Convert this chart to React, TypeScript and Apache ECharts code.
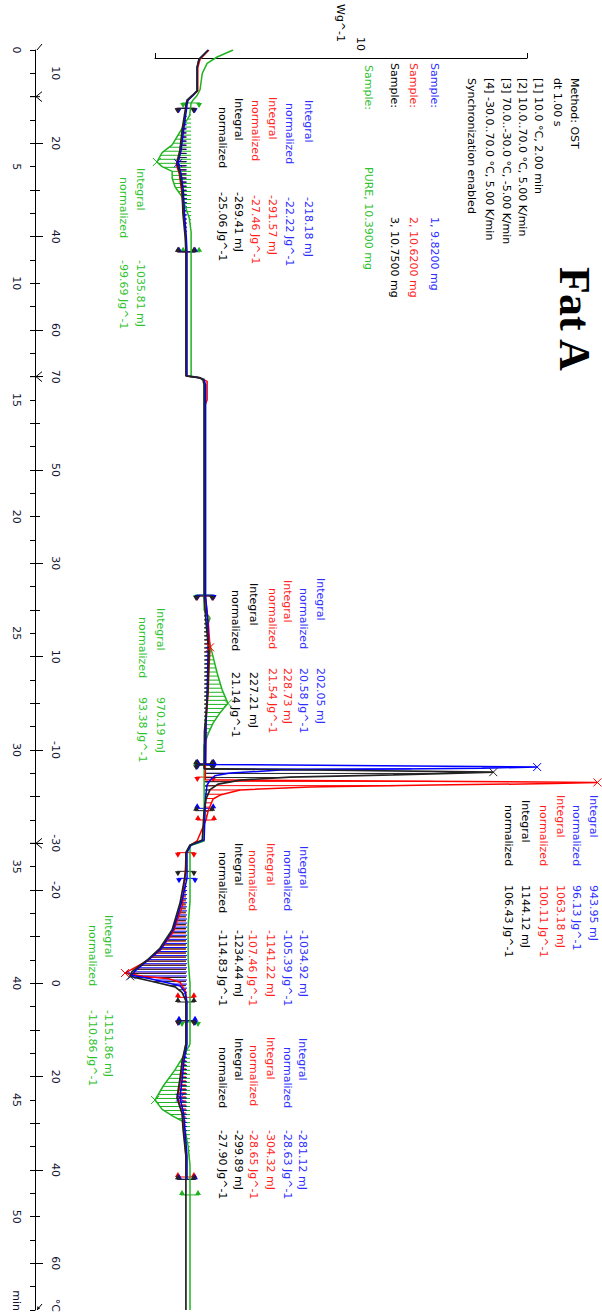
import React, { useEffect, useRef } from 'react';
import * as echarts from 'echarts';

// ---------- axis ticks / labels (time in min) ----------
const timeLabelValues = [0, 5, 10, 15, 20, 25, 30, 35, 40, 45, 50];
const timeUnitLabel = 'min';
const timeUnitAt = 53.6;
const tempLabelTimes = [1, 4, 8, 12, 14, 18, 22, 26, 30, 34, 36, 40, 44, 48, 52];
const tempLabels = ['10', '20', '40', '60', '70', '50', '30', '10', '-10', '-30', '-20', '0', '20', '40', '60'];
const tempMajorTimes = [4, 8, 12, 14, 18, 22, 26, 30, 34, 36, 40, 44, 48, 52];
const tempMinorTimes = [6, 10, 16, 20, 24, 28, 32, 38, 42, 46, 50];
const tempUnitLabel = '°C';
const tempUnitAt = 53.8;
const segmentTimes = [2, 14, 34];
const axisEndTimes = [0, 54];

// ---------- curves: [heat flow (W/g, offset), time (min)] ----------
const blackCurve = [
  [0.06, 0], [-0.19, 0.4], [-0.24, 0.75], [-0.24, 1.75], [-0.37, 1.95], [-0.51, 2.15], [-0.54, 2.35],
  [-0.55, 2.5], [-0.64, 3.4], [-0.70, 4.3], [-0.78, 4.85], [-0.70, 5.3], [-0.64, 6.0], [-0.62, 7.0], [-0.56, 8.0], [-0.54, 8.65],
  [-0.54, 13.97], [-0.16, 14.05], [-0.08, 14.15], [-0.05, 14.35],
  [-0.05, 23.4], [0.0, 24.5], [0.08, 25.8], [0.05, 27.5], [0.0, 28.5], [-0.04, 29.2], [-0.05, 30.8],
  [7.73, 30.95], [6.57, 31.0], [5.04, 31.07], [2.26, 31.16], [0.92, 31.29], [0.33, 31.46], [0.11, 31.7], [0.0, 32.1], [-0.05, 32.6],
  [-0.10, 33.86], [-0.43, 34.07], [-0.54, 34.4],
  [-0.54, 35.2], [-0.70, 36.57], [-0.91, 37.7], [-1.24, 38.5], [-1.58, 39.0], [-1.99, 39.5], [-2.04, 39.7], [-1.50, 39.9], [-0.83, 40.15], [-0.64, 40.4], [-0.54, 40.75],
  [-0.54, 42.6], [-0.64, 43.3], [-0.70, 44.1], [-0.78, 44.9], [-0.64, 45.6], [-0.62, 46.2], [-0.54, 47.4], [-0.54, 54],
];
const blueCurve = [
  [0.06, 0], [-0.19, 0.4], [-0.24, 0.75], [-0.24, 1.75], [-0.35, 1.95], [-0.48, 2.15], [-0.51, 2.35],
  [-0.52, 2.5], [-0.60, 3.4], [-0.67, 4.3], [-0.75, 4.85], [-0.67, 5.3], [-0.61, 6.0], [-0.58, 7.0], [-0.53, 8.0], [-0.51, 8.65],
  [-0.51, 13.97], [-0.16, 14.05], [-0.05, 14.15], [-0.01, 14.35],
  [-0.01, 23.4], [0.05, 24.5], [0.06, 25.5], [0.04, 27.0], [0.0, 29.0], [-0.01, 30.62],
  [8.91, 30.73], [7.43, 30.78], [2.0, 30.86], [0.65, 30.99], [0.24, 31.1], [0.11, 31.3], [0.03, 31.5], [-0.01, 32.0],
  [-0.05, 33.86], [-0.40, 34.07], [-0.51, 34.4],
  [-0.51, 35.5], [-0.67, 36.6], [-0.88, 37.7], [-1.20, 38.5], [-1.55, 39.0], [-1.93, 39.5], [-2.0, 39.65], [-1.50, 39.8], [-0.70, 40.1], [-0.56, 40.4], [-0.51, 40.8],
  [-0.51, 42.6], [-0.59, 43.3], [-0.64, 44.1], [-0.70, 44.9], [-0.60, 45.6], [-0.57, 46.2], [-0.51, 47.4], [-0.51, 48.4],
];
const redCurve = [
  [0.08, 0], [-0.16, 0.4], [-0.22, 0.75], [-0.22, 1.75], [-0.35, 1.95], [-0.50, 2.15], [-0.53, 2.35],
  [-0.54, 2.5], [-0.62, 3.4], [-0.70, 4.3], [-0.80, 4.9], [-0.72, 5.3], [-0.66, 6.0], [-0.60, 7.0], [-0.55, 8.0], [-0.53, 8.65],
  [-0.53, 13.97], [-0.16, 14.05], [0.03, 14.2], [0.03, 15.0], [-0.02, 15.2],
  [-0.02, 23.4], [0.06, 24.5], [0.11, 25.6], [0.08, 26.5], [0.06, 27.5], [0.0, 28.8], [-0.02, 31.28],
  [10.53, 31.39], [9.34, 31.44], [6.11, 31.5], [2.80, 31.59], [0.92, 31.71], [0.38, 31.93], [0.19, 32.1], [0.06, 32.6], [0.0, 33.0],
  [-0.24, 33.9], [-0.43, 34.1], [-0.54, 34.4],
  [-0.55, 35.0], [-0.64, 36.7], [-0.88, 37.8], [-1.24, 38.6], [-1.60, 39.05], [-2.18, 39.56], [-1.70, 39.7], [-1.0, 39.8], [-0.70, 39.95], [-0.54, 40.4],
  [-0.54, 42.6], [-0.62, 43.3], [-0.68, 44.1], [-0.76, 44.9], [-0.64, 45.6], [-0.60, 46.2], [-0.54, 47.4], [-0.54, 48.3],
];
const greenCurve = [
  [0.73, 0], [0.30, 0.3], [0.03, 0.57], [-0.10, 1.0], [-0.16, 1.7], [-0.24, 1.95], [-0.35, 2.15], [-0.40, 2.27],
  [-0.44, 2.8], [-0.62, 3.3], [-0.91, 4.07], [-1.18, 4.4], [-1.32, 4.8], [-1.18, 5.0], [-0.91, 5.2], [-0.91, 5.5], [-0.83, 5.87], [-0.64, 6.3], [-0.56, 6.7], [-0.45, 7.2], [-0.40, 7.8],
  [-0.40, 13.97], [-0.05, 14.1],
  [-0.05, 24.0], [0.11, 24.35], [0.03, 24.7], [0.08, 25.3], [0.19, 26.0], [0.30, 26.7], [0.43, 27.4], [0.59, 28.0], [0.38, 28.4], [0.19, 28.85], [0.06, 29.3], [-0.05, 29.8],
  [-0.05, 33.9], [-0.43, 34.1],
  [-0.43, 36.5], [-0.48, 37.5], [-0.48, 39.0], [-0.43, 40.0],
  [-0.43, 42.6], [-0.56, 43.0], [-0.83, 43.7], [-1.15, 44.4], [-1.37, 45.0], [-1.18, 45.4], [-0.88, 45.7], [-0.64, 45.9], [-0.56, 46.3], [-0.48, 47.0], [-0.43, 47.8], [-0.43, 54],
];

// ---------- integration limits [start, end] (min) ----------
const blueInts = [[2.5, 8.65], [23.36, 30.6], [30.62, 32.5], [35.5, 41.6], [41.6, 48.4]];
const redInts = [[2.5, 8.65], [23.4, 30.6], [31.16, 33.0], [34.4, 40.6], [41.6, 48.3]];
const blackInts = [[2.5, 8.65], [23.4, 30.6], [30.65, 32.6], [35.2, 40.8], [41.6, 48.4]];
const greenInts = [[2.27, 8.65], [23.36, 30.65], [41.66, 49.07]];

// ---------- peak marks ----------
const bluePeaks = [[-0.75, 4.85], [8.91, 30.73], [-2.0, 39.65], [-0.70, 44.9]];
const redPeaks = [[0.11, 25.6], [10.53, 31.39], [-2.18, 39.56]];
const blackPeaks = [[7.73, 30.95], [-2.04, 39.7]];
const greenPeaks = [[-1.32, 4.8], [0.59, 28.0], [-1.37, 45.0]];

// ---------- integral results ----------
const blueIntegral_mJ = [-218.18, 202.05, 943.95, -1034.92, -281.12];
const blueNormalized = [-22.22, 20.58, 96.13, -105.39, -28.63];
const redIntegral_mJ = [-291.57, 228.73, 1063.18, -1141.22, -304.32];
const redNormalized = [-27.46, 21.54, 100.11, -107.46, -28.65];
const blackIntegral_mJ = [-269.41, 227.21, 1144.12, -1234.44, -299.89];
const blackNormalized = [-25.06, 21.14, 106.43, -114.83, -27.9];
const greenIntegral_mJ = [-1035.81, 970.19, -1151.86];
const greenNormalized = [-99.69, 93.38, -110.86];

// ---------- header texts ----------
const methodLines = [
  'Method: OST',
  'dt 1.00 s',
  '[1] 10.0 °C, 2.00 min',
  '[2] 10.0..70.0 °C, 5.00 K/min',
  '[3] 70.0..-30.0 °C, -5.00 K/min',
  '[4] -30.0..70.0 °C, 5.00 K/min',
  'Synchronization enabled',
];
const sampleNames = ['1, 9.8200 mg', '2, 10.6200 mg', '3, 10.7500 mg', 'PURE, 10.3900 mg'];
const titleText = 'Fat A';
const scaleValue = '10';
const scaleUnit = 'Wg^-1';

// ---------- layout (pixels) ----------
const methodX = [574, 557, 538, 522, 506, 489, 471];
const methodY = 78;
const sampleX = [434, 413, 394, 368];
const sampleLabelY = [63, 63, 63, 65];
const sampleValueY = [217, 217, 217, 167];
// [integralX, integralY, normalizedX, normalizedY, valueY]
const blueLabelPos = [[308, 100, 289, 103, 197], [320, 578, 303, 588, 668], [593, 795, 576, 805, 885], [303, 846, 287, 850, 930], [302, 1038, 287, 1047, 1130]];
const redLabelPos = [[272, 97, 255, 100, 195], [287, 580, 272, 588, 668], [560, 795, 543, 805, 885], [270, 843, 252, 850, 930], [270, 1037, 253, 1045, 1130]];
const blackLabelPos = [[238, 98, 222, 107, 192], [253, 583, 235, 590, 672], [525, 800, 508, 805, 885], [238, 843, 222, 852, 930], [238, 1038, 222, 1047, 1130]];
const greenLabelPos = [[140, 168, 123, 177, 260], [160, 608, 142, 617, 697], [108, 915, 92, 925, 1010]];

const BLUE = '#0000ff';
const RED = '#ff0000';
const BLACK = '#222222';
const GREEN = '#1fb41f';
const BLUE_T = '#2e2eff';
const RED_T = '#ff1e1e';
const BLACK_T = '#000000';
const GREEN_T = '#2fc22f';
const FONT = '11px "DejaVu Sans"';
const AXIS_TXT = '#101030';

function interp(curve: number[][], t: number): number {
  if (t <= curve[0][1]) return curve[0][0];
  for (let i = 1; i < curve.length; i++) {
    if (t <= curve[i][1]) {
      const [v0, t0] = curve[i - 1];
      const [v1, t1] = curve[i];
      return t1 === t0 ? v1 : v0 + ((v1 - v0) * (t - t0)) / (t1 - t0);
    }
  }
  return curve[curve.length - 1][0];
}

function hatchSeries(curve: number[][], ints: number[][], color: string) {
  return {
    type: 'custom',
    xAxisIndex: 0,
    yAxisIndex: 0,
    silent: true,
    z: 2,
    data: ints,
    renderItem: (params: any, api: any) => {
      const tS = api.value(0);
      const tE = api.value(1);
      const vS = interp(curve, tS);
      const vE = interp(curve, tE);
      const pS = api.coord([vS, tS]);
      const pE = api.coord([vE, tE]);
      const children: any[] = [];
      const n = Math.max(1, Math.floor((pE[1] - pS[1]) / 4));
      for (let k = 0; k <= n; k++) {
        const t = tS + ((tE - tS) * k) / n;
        const vb = vS + ((vE - vS) * (t - tS)) / (tE - tS);
        const vc = interp(curve, t);
        const a = api.coord([vb, t]);
        const b = api.coord([vc, t]);
        if (Math.abs(a[0] - b[0]) < 1) continue;
        children.push({ type: 'line', shape: { x1: a[0], y1: a[1], x2: b[0], y2: b[1] }, style: { stroke: color, lineWidth: 1 } });
      }
      const mark = (p: number[], dir: number) => {
        children.push({ type: 'line', shape: { x1: p[0] - 9, y1: p[1], x2: p[0] + 9, y2: p[1] }, style: { stroke: color, lineWidth: 1 } });
        [p[0] - 8, p[0] + 8].forEach((x) => {
          children.push({ type: 'polygon', shape: { points: [[x - 3, p[1]], [x + 3, p[1]], [x, p[1] + 5 * dir]] }, style: { fill: color } });
        });
      };
      mark(pS, 1);
      mark(pE, -1);
      return { type: 'group', children };
    },
  };
}

function lineSeries(curve: number[][], color: string, width: number) {
  return {
    type: 'line',
    xAxisIndex: 0,
    yAxisIndex: 0,
    data: curve,
    showSymbol: false,
    symbol: 'none',
    silent: true,
    z: 3,
    lineStyle: { color, width },
    itemStyle: { color },
  };
}

function peakSeries(peaks: number[][], color: string) {
  return {
    type: 'custom',
    xAxisIndex: 0,
    yAxisIndex: 0,
    silent: true,
    z: 4,
    data: peaks,
    renderItem: (params: any, api: any) => {
      const c = api.coord([api.value(0), api.value(1)]);
      const s = 4;
      return {
        type: 'group',
        children: [
          { type: 'line', shape: { x1: c[0] - s, y1: c[1] - s, x2: c[0] + s, y2: c[1] + s }, style: { stroke: color, lineWidth: 1 } },
          { type: 'line', shape: { x1: c[0] - s, y1: c[1] + s, x2: c[0] + s, y2: c[1] - s }, style: { stroke: color, lineWidth: 1 } },
        ],
      };
    },
  };
}

function vt(x: number, y: number, text: string, fill: string, font: string = FONT) {
  return {
    type: 'text',
    x,
    y,
    rotation: -Math.PI / 2,
    silent: true,
    z: 10,
    style: { text, fill, font, align: 'left', verticalAlign: 'middle', textAlign: 'left', textVerticalAlign: 'middle' },
  };
}

function integralTexts(pos: number[][], integ: number[], norm: number[], color: string) {
  const out: any[] = [];
  pos.forEach((p, i) => {
    const [ix, iy, nx, ny, vy] = p;
    out.push(vt(ix, iy, 'Integral', color));
    out.push(vt(ix, vy, `${integ[i].toFixed(2)} mJ`, color));
    out.push(vt(nx, ny, 'normalized', color));
    out.push(vt(nx, vy, `${norm[i].toFixed(2)} Jg^-1`, color));
  });
  return out;
}

export default function App() {
  const ref = useRef<HTMLDivElement>(null);
  useEffect(() => {
    if (!ref.current) return;
    const chart = echarts.init(ref.current, undefined, { renderer: 'svg' });

    const sampleColors = [BLUE_T, RED_T, BLACK_T, GREEN_T];
    const graphic: any[] = [];
    methodLines.forEach((s, i) => graphic.push(vt(methodX[i], methodY, s, BLACK_T)));
    sampleNames.forEach((s, i) => {
      graphic.push(vt(sampleX[i], sampleLabelY[i], 'Sample:', sampleColors[i]));
      graphic.push(vt(sampleX[i], sampleValueY[i], s, sampleColors[i]));
    });
    graphic.push(vt(360, 37, scaleValue, BLACK_T));
    graphic.push(vt(340, 4, scaleUnit, BLACK_T));
    graphic.push(vt(574, 267, titleText, '#000', 'bold 44px "Liberation Serif"'));
    graphic.push(...integralTexts(blueLabelPos, blueIntegral_mJ, blueNormalized, BLUE_T));
    graphic.push(...integralTexts(redLabelPos, redIntegral_mJ, redNormalized, RED_T));
    graphic.push(...integralTexts(blackLabelPos, blackIntegral_mJ, blackNormalized, BLACK_T));
    graphic.push(...integralTexts(greenLabelPos, greenIntegral_mJ, greenNormalized, GREEN_T));

    const near = (a: number, b: number) => Math.abs(a - b) < 1e-6;

    const option: any = {
      animation: false,
      backgroundColor: '#ffffff',
      grid: [
        { left: 35, top: 50, width: 565, height: 1260 },
        { left: 155, top: 58, width: 372, height: 10 },
      ],
      xAxis: [
        { gridIndex: 0, type: 'value', min: -4.6, max: 10.6, show: false, axisLine: { onZero: false } },
        {
          gridIndex: 1, type: 'value', min: 0, max: 10, position: 'top',
          axisLine: { show: true, onZero: false, lineStyle: { color: '#000', width: 1 } },
          axisTick: { show: true, inside: false, length: 5, customValues: [0, 10], lineStyle: { color: '#000' } },
          axisLabel: { show: false },
          splitLine: { show: false },
        },
      ],
      yAxis: [
        {
          gridIndex: 0, type: 'value', min: 0, max: 54, interval: 1, inverse: true, position: 'left',
          axisLine: { show: true, onZero: false, lineStyle: { color: '#000', width: 1 } },
          axisTick: { show: true, inside: false, length: 5, lineStyle: { color: '#000' } },
          axisLabel: {
            show: true,
            customValues: [...timeLabelValues, timeUnitAt],
            formatter: (v: number) => (near(v, timeUnitAt) ? timeUnitLabel : String(v)),
            rotate: -90, margin: 13, color: AXIS_TXT, fontFamily: 'DejaVu Sans', fontSize: 11,
          },
          splitLine: { show: false },
        },
        {
          gridIndex: 0, type: 'value', min: 0, max: 54, inverse: true, position: 'left',
          axisLine: { show: false, onZero: false },
          axisTick: { show: true, inside: true, length: 8, customValues: tempMajorTimes, lineStyle: { color: '#000' } },
          axisLabel: {
            show: true, inside: true,
            customValues: [...tempLabelTimes, tempUnitAt],
            formatter: (v: number) => {
              const i = tempLabelTimes.findIndex((t) => near(t, v));
              return i >= 0 ? tempLabels[i] : tempUnitLabel;
            },
            rotate: -90, margin: 15, color: AXIS_TXT, fontFamily: 'DejaVu Sans', fontSize: 11,
          },
          splitLine: { show: false },
        },
        {
          gridIndex: 0, type: 'value', min: 0, max: 54, inverse: true, position: 'left',
          axisLine: { show: false, onZero: false },
          axisTick: { show: true, inside: true, length: 5, customValues: tempMinorTimes, lineStyle: { color: '#000' } },
          axisLabel: { show: false },
          splitLine: { show: false },
        },
        { gridIndex: 1, type: 'value', min: 0, max: 1, show: false, axisLine: { onZero: false } },
      ],
      series: [
        hatchSeries(greenCurve, greenInts, GREEN),
        hatchSeries(redCurve, redInts, RED),
        hatchSeries(blueCurve, blueInts, BLUE),
        hatchSeries(blackCurve, blackInts, BLACK),
        lineSeries(greenCurve, GREEN, 1.5),
        lineSeries(redCurve, RED, 1.5),
        lineSeries(blueCurve, BLUE, 1.5),
        lineSeries(blackCurve, BLACK, 1.7),
        peakSeries(greenPeaks, GREEN),
        peakSeries(redPeaks, RED),
        peakSeries(bluePeaks, BLUE),
        peakSeries(blackPeaks, BLACK),
        {
          type: 'custom', xAxisIndex: 0, yAxisIndex: 0, silent: true, z: 5,
          data: segmentTimes.map((t) => [t]),
          renderItem: (params: any, api: any) => {
            const y = api.coord([0, api.value(0)])[1];
            const x = params.coordSys.x;
            return {
              type: 'group',
              children: [
                { type: 'line', shape: { x1: x - 5, y1: y, x2: x + 5, y2: y }, style: { stroke: '#000', lineWidth: 1 } },
                { type: 'line', shape: { x1: x + 1, y1: y, x2: x + 7, y2: y - 5 }, style: { stroke: '#000', lineWidth: 1 } },
                { type: 'line', shape: { x1: x + 1, y1: y, x2: x + 7, y2: y + 5 }, style: { stroke: '#000', lineWidth: 1 } },
              ],
            };
          },
        },
        {
          type: 'custom', xAxisIndex: 0, yAxisIndex: 0, silent: true, z: 5,
          data: axisEndTimes.map((t) => [t]),
          renderItem: (params: any, api: any) => {
            const y = api.coord([0, api.value(0)])[1];
            const x = params.coordSys.x;
            const children: any[] = [
              { type: 'line', shape: { x1: x + 2, y1: y, x2: x + 7, y2: y - 6 }, style: { stroke: '#000', lineWidth: 1 } },
            ];
            if (params.dataIndex === 1) {
              children.push({ type: 'polygon', shape: { points: [[x + 2, y], [x + 2.5, y - 4], [x + 5, y - 1.5]] }, style: { fill: '#000' } });
            }
            return { type: 'group', children };
          },
        },
      ],
      graphic,
    };
    chart.setOption(option);
    return () => chart.dispose();
  }, []);
  return <div ref={ref} style={{ position: 'absolute', left: 0, top: 0, width: 602, height: 1316 }} />;
}
